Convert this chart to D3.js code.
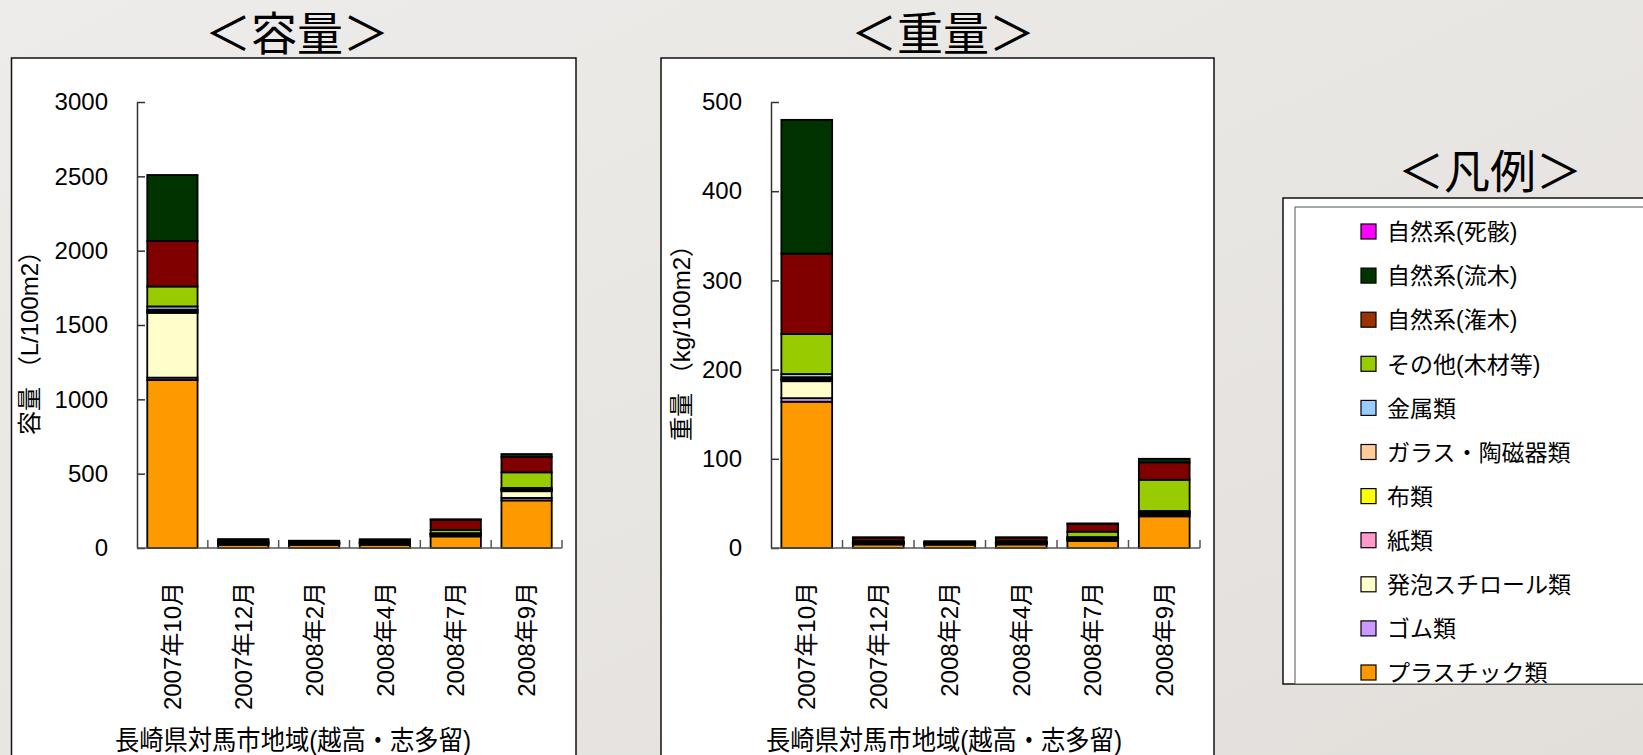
<!DOCTYPE html>
<html>
<head>
<meta charset="utf-8">
<script src="https://cdn.jsdelivr.net/npm/d3@7"></script>
<style>
  body { margin: 0; background: #e8e5e1; }
  svg { display: block; font-family: "Liberation Sans", "Noto Sans CJK JP", sans-serif; }
</style>
</head>
<body>
<script>
// カテゴリ（調査時期）
const categories = ["2007年10月", "2007年12月", "2008年2月", "2008年4月", "2008年7月", "2008年9月"];

// 系列名（下から上へ積み上げる順）
const seriesNames = ["プラスチック類", "ゴム類", "発泡スチロール類", "紙類", "布類", "ガラス・陶磁器類",
  "金属類", "その他(木材等)", "自然系(潅木)", "自然系(流木)", "自然系(死骸)"];

// 色
const colors = ["#ff9900", "#cc99ff", "#ffffcc", "#ff99cc", "#ffff00", "#ffcc99",
  "#99ccff", "#99cc00", "#800000", "#003300", "#ff00ff"];
const legendColors = ["#ff9900", "#cc99ff", "#ffffcc", "#ff99cc", "#ffff00", "#ffcc99",
  "#99ccff", "#99cc00", "#993300", "#003300", "#ff00ff"];

// 容量 (L/100m2)  系列ごと、カテゴリ順
const volPlastic = [1130, 22, 22, 22, 78, 320];
const volRubber  = [16, 2, 2, 2, 3, 17];
const volFoam    = [436, 8, 6, 8, 10, 45];
const volPaper   = [8, 2, 1, 2, 2, 5];
const volCloth   = [5, 1, 1, 1, 1, 3];
const volGlass   = [8, 2, 2, 2, 2, 6];
const volMetal   = [22, 5, 3, 5, 4, 8];
const volOther   = [134, 5, 4, 5, 22, 105];
const volShrub   = [307, 8, 5, 8, 68, 103];
const volDrift   = [443, 5, 3, 4, 3, 20];
const volDead    = [0, 0, 0, 0, 0, 0];

// 重量 (kg/100m2)
const wtPlastic = [164, 4, 3.8, 4, 8, 35.5];
const wtRubber  = [4, 0.5, 0.3, 0.5, 0.5, 1];
const wtFoam    = [19, 1, 1, 1, 2, 2];
const wtPaper   = [1.5, 0.2, 0.1, 0.2, 0.3, 0.5];
const wtCloth   = [1, 0.1, 0.1, 0.1, 0.2, 0.5];
const wtGlass   = [2, 0.3, 0.2, 0.3, 0.5, 1];
const wtMetal   = [3.5, 0.5, 0.3, 0.5, 0.8, 1];
const wtOther   = [45, 1.2, 0.8, 1.2, 6, 35];
const wtShrub   = [90, 3.5, 0.6, 3.5, 8.5, 19.5];
const wtDrift   = [150, 0.8, 0.3, 0.8, 0.8, 4];
const wtDead    = [0, 0, 0, 0, 0, 0];

// 目盛り
const volTicks = [0, 500, 1000, 1500, 2000, 2500, 3000];
const wtTicks = [0, 100, 200, 300, 400, 500];

const volSeries = [volPlastic, volRubber, volFoam, volPaper, volCloth, volGlass, volMetal, volOther, volShrub, volDrift, volDead];
const wtSeries = [wtPlastic, wtRubber, wtFoam, wtPaper, wtCloth, wtGlass, wtMetal, wtOther, wtShrub, wtDrift, wtDead];

const W = 1643, H = 755;
const svg = d3.select("body").append("svg").attr("width", W).attr("height", H);

// 背景（写真の代わりに淡いグレー）
const grad = svg.append("defs").append("linearGradient").attr("id", "bg")
  .attr("x1", 0).attr("y1", 0).attr("x2", 1).attr("y2", 1);
grad.append("stop").attr("offset", "0%").attr("stop-color", "#eeecea");
grad.append("stop").attr("offset", "100%").attr("stop-color", "#e2dfdb");
svg.append("rect").attr("width", W).attr("height", H).attr("fill", "url(#bg)");

function toRows(series) {
  return categories.map((c, i) => {
    const r = { cat: c };
    seriesNames.forEach((s, k) => r[s] = series[k][i]);
    return r;
  });
}

function drawChart(cfg) {
  const y0 = 548, y1 = 102;

  // 枠
  svg.append("rect")
    .attr("x", cfg.px0).attr("y", 58)
    .attr("width", cfg.px1 - cfg.px0).attr("height", 760)
    .attr("fill", "#fff").attr("stroke", "#111").attr("stroke-width", 1.5);

  // タイトル
  svg.append("text")
    .attr("x", cfg.titleX).attr("y", 50)
    .attr("text-anchor", "middle")
    .style("font-size", "46px")
    .text(cfg.title);

  const x = d3.scaleBand().domain(categories).range([cfg.ax0, cfg.ax1])
    .paddingInner(0.29).paddingOuter(0.145);
  const y = d3.scaleLinear().domain([0, cfg.max]).range([y0, y1]);

  const stacked = d3.stack().keys(seriesNames)(toRows(cfg.series));

  const g = svg.append("g");
  g.selectAll("g.layer")
    .data(stacked)
    .enter().append("g")
    .attr("class", "layer")
    .attr("fill", (d, i) => colors[i])
    .selectAll("rect")
    .data(d => d)
    .enter().append("rect")
    .attr("x", d => x(d.data.cat))
    .attr("width", x.bandwidth())
    .attr("y", d => y(d[1]))
    .attr("height", d => y(d[0]) - y(d[1]))
    .attr("stroke", "#000")
    .attr("stroke-width", 1.8);

  // Y軸（目盛りは内向き）
  svg.append("g")
    .attr("transform", `translate(${cfg.ax0},0)`)
    .call(d3.axisLeft(y).tickValues(cfg.ticks).tickFormat(d3.format("d"))
      .tickSizeInner(-8).tickSizeOuter(0).tickPadding(29))
    .call(a => a.selectAll("path, line").attr("stroke", "#333").attr("stroke-width", 1.5))
    .call(a => a.selectAll("text").style("font-size", "24px").attr("fill", "#000")
      .style("font-family", "Liberation Sans, sans-serif"));

  // X軸
  const xa = svg.append("g");
  xa.append("line")
    .attr("x1", cfg.ax0).attr("x2", cfg.ax1).attr("y1", y0).attr("y2", y0)
    .attr("stroke", "#555").attr("stroke-width", 1.5);
  xa.selectAll("line.tk")
    .data(d3.range(1, categories.length + 1))
    .enter().append("line")
    .attr("class", "tk")
    .attr("x1", i => cfg.ax0 + i * x.step()).attr("x2", i => cfg.ax0 + i * x.step())
    .attr("y1", y0).attr("y2", y0 - 8)
    .attr("stroke", "#555").attr("stroke-width", 1.5);

  // カテゴリラベル（縦書き回転）
  xa.selectAll("text.cat")
    .data(categories)
    .enter().append("text")
    .attr("class", "cat")
    .attr("transform", d => `translate(${x(d) + x.bandwidth() / 2},582) rotate(-90)`)
    .attr("text-anchor", "end")
    .attr("dy", "0.36em")
    .style("font-size", "24px")
    .text(d => d);

  // 軸タイトル
  svg.append("text")
    .attr("transform", `translate(${cfg.yTitleX},337) rotate(-90)`)
    .attr("text-anchor", "middle")
    .attr("dy", "0.36em")
    .style("font-size", "24px")
    .text(cfg.yTitle);

  svg.append("text")
    .attr("x", cfg.xTitleX).attr("y", 750)
    .attr("text-anchor", "middle")
    .attr("textLength", 356)
    .attr("lengthAdjust", "spacingAndGlyphs")
    .style("font-size", "27px")
    .text("長崎県対馬市地域(越高・志多留)");
}

drawChart({
  title: "＜容量＞", titleX: 297,
  px0: 11.5, px1: 576, ax0: 137, ax1: 562,
  max: 3000, ticks: volTicks, series: volSeries,
  yTitle: "容量 （L/100m2）", yTitleX: 29, xTitleX: 293
});

drawChart({
  title: "＜重量＞", titleX: 943,
  px0: 661, px1: 1214, ax0: 771, ax1: 1200,
  max: 500, ticks: wtTicks, series: wtSeries,
  yTitle: "重量 （kg/100m2）", yTitleX: 681, xTitleX: 944
});

// 凡例
svg.append("text")
  .attr("x", 1490).attr("y", 188)
  .attr("text-anchor", "middle")
  .style("font-size", "46px")
  .text("＜凡例＞");

const lg = svg.append("g");
lg.append("clipPath").attr("id", "lclip")
  .append("rect").attr("x", 1283).attr("y", 198).attr("width", 400).attr("height", 486);
lg.append("rect")
  .attr("x", 1283).attr("y", 198).attr("width", 400).attr("height", 486)
  .attr("fill", "#fff").attr("stroke", "#111").attr("stroke-width", 1.5);
lg.append("rect")
  .attr("x", 1295).attr("y", 207).attr("width", 400).attr("height", 477)
  .attr("fill", "#fff").attr("stroke", "#555").attr("stroke-width", 1);

const legendOrder = d3.range(seriesNames.length).reverse();
const items = lg.append("g").attr("clip-path", "url(#lclip)")
  .selectAll("g.item")
  .data(legendOrder)
  .enter().append("g")
  .attr("class", "item")
  .attr("transform", (k, i) => `translate(1361,${232 + i * 44.1})`);
items.append("rect")
  .attr("x", 0).attr("y", -8).attr("width", 15).attr("height", 15)
  .attr("fill", k => legendColors[k])
  .attr("stroke", "#000").attr("stroke-width", 1.2);
items.append("text")
  .attr("x", 26).attr("dy", "0.36em")
  .style("font-size", "23px")
  .text(k => seriesNames[k]);
</script>
</body>
</html>
